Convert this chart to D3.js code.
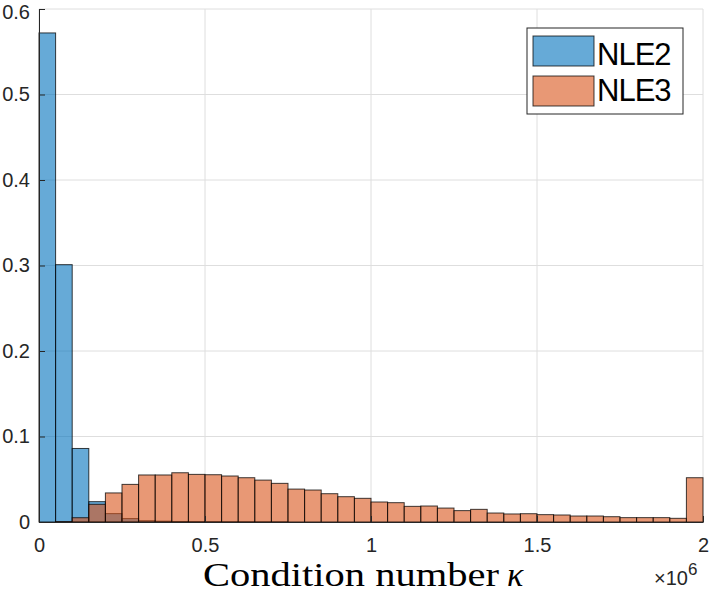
<!DOCTYPE html>
<html>
<head>
<meta charset="utf-8">
<script src="https://cdn.jsdelivr.net/npm/d3@7"></script>
<style>
  body { margin: 0; background: #fff; }
  .tick text { font-family: "Liberation Sans", Arial, sans-serif; font-size: 20px; fill: #262626; }
</style>
</head>
<body>
<div id="chart"></div>
<script>
// histogram bins: 40 bins of width 0.05e6 from 0 to 2e6
var binWidth = 50000;
var nle2 = [0.572, 0.301, 0.086, 0.0238, 0.0098, 0.004, 0.0015, 0.001, 0.0006, 0.0004,
            0.0003, 0.0002, 0.0002, 0.0001, 0.0001, 0, 0, 0, 0, 0,
            0, 0, 0, 0, 0, 0, 0, 0, 0, 0,
            0, 0, 0, 0, 0, 0, 0, 0, 0, 0];
var nle3 = [0, 0.0005, 0.005, 0.0207, 0.034, 0.044, 0.055, 0.055, 0.0576, 0.0557,
            0.0553, 0.0538, 0.0518, 0.049, 0.0452, 0.0385, 0.0374, 0.0331, 0.0296, 0.0277,
            0.0234, 0.0226, 0.0183, 0.0187, 0.0163, 0.0133, 0.0148, 0.0105, 0.0094, 0.0097,
            0.0086, 0.0082, 0.007, 0.007, 0.0062, 0.0051, 0.0051, 0.0051, 0.0043, 0.0518];
var xTicks = [0, 0.5e6, 1e6, 1.5e6, 2e6];
var xTickLabels = ["0", "0.5", "1", "1.5", "2"];
var yTicks = [0, 0.1, 0.2, 0.3, 0.4, 0.5, 0.6];
var seriesNames = ["NLE2", "NLE3"];
var colors = ["#0072BD", "#D95319"];

var W = 709, H = 592;
var margin = { top: 9, right: 6, bottom: 70, left: 39 },
    width = W - margin.left - margin.right,
    height = H - margin.top - margin.bottom;

var svg = d3.select("#chart")
    .append("svg")
    .attr("width", W)
    .attr("height", H)
    .append("g")
    .attr("transform", "translate(" + margin.left + "," + margin.top + ")");

var x = d3.scaleLinear().domain([0, 2e6]).range([0, width]);
var y = d3.scaleLinear().domain([0, 0.6]).range([height, 0]);

// grid
svg.append("g")
    .selectAll("line")
    .data(xTicks)
    .enter().append("line")
    .attr("x1", function (d) { return x(d); })
    .attr("x2", function (d) { return x(d); })
    .attr("y1", 0).attr("y2", height)
    .attr("stroke", "#dedede").attr("stroke-width", 1);
svg.append("g")
    .selectAll("line")
    .data(yTicks)
    .enter().append("line")
    .attr("y1", function (d) { return y(d); })
    .attr("y2", function (d) { return y(d); })
    .attr("x1", 0).attr("x2", width)
    .attr("stroke", "#dedede").attr("stroke-width", 1);

// bars (NLE3 drawn over NLE2)
[nle2, nle3].forEach(function (vals, s) {
  var data = vals.map(function (v, i) { return { i: i, v: v }; })
      .filter(function (d) { return d.v > 0; });
  svg.append("g")
      .selectAll("rect")
      .data(data)
      .enter().append("rect")
      .attr("x", function (d) { return x(d.i * binWidth); })
      .attr("width", function (d) { return x((d.i + 1) * binWidth) - x(d.i * binWidth); })
      .attr("y", function (d) { return y(d.v); })
      .attr("height", function (d) { return y(0) - y(d.v); })
      .attr("fill", colors[s])
      .attr("fill-opacity", 0.6)
      .attr("stroke", "#000")
      .attr("stroke-opacity", 0.75)
      .attr("stroke-width", 1);
});

// axes
var xAxis = svg.append("g")
    .attr("transform", "translate(0," + height + ")")
    .call(d3.axisBottom(x).tickValues(xTicks)
        .tickFormat(function (d, i) { return xTickLabels[i]; })
        .tickSizeInner(-6).tickSizeOuter(0).tickPadding(16));
var yAxis = svg.append("g")
    .call(d3.axisLeft(y).tickValues(yTicks)
        .tickFormat(function (d) { return d === 0 ? "0" : d3.format(".1f")(d); })
        .tickSizeInner(-6).tickSizeOuter(0).tickPadding(9));
[xAxis, yAxis].forEach(function (a) {
  a.select(".domain").attr("stroke", "#262626");
  a.selectAll(".tick line").attr("stroke", "#262626");
});
// keep the top label inside the window
yAxis.selectAll(".tick text").filter(function (d) { return d === 0.6; }).attr("dy", "0.48em");

// x label
svg.append("text")
    .attr("x", 164)
    .attr("y", 577)
    .style("font-family", "'Liberation Serif', 'Times New Roman', serif")
    .style("font-size", "34px")
    .style("fill", "#000")
    .attr("textLength", 296)
    .attr("lengthAdjust", "spacingAndGlyphs")
    .text("Condition number");
svg.append("text")
    .attr("x", 468)
    .attr("y", 577)
    .style("font-family", "'Liberation Serif', 'Times New Roman', serif")
    .style("font-size", "34px")
    .style("font-style", "italic")
    .style("fill", "#000")
    .text("\u03BA");

// exponent
var ex = svg.append("text")
    .attr("x", 615)
    .attr("y", 576)
    .style("font-family", "'Liberation Sans', Arial, sans-serif")
    .style("font-size", "20px")
    .style("fill", "#262626");
ex.append("tspan").text("\u00D710");
ex.append("tspan").attr("dy", -10).style("font-size", "17px").text("6");

// legend
var leg = svg.append("g").attr("transform", "translate(" + (527 - margin.left) + "," + (28 - margin.top) + ")");
leg.append("rect")
    .attr("width", 156).attr("height", 86)
    .attr("fill", "#fff").attr("stroke", "#262626").attr("stroke-width", 1);
seriesNames.forEach(function (name, i) {
  leg.append("rect")
      .attr("x", 6).attr("y", 8 + i * 40)
      .attr("width", 61).attr("height", 30)
      .attr("fill", colors[i]).attr("fill-opacity", 0.6)
      .attr("stroke", "#000").attr("stroke-opacity", 0.75);
  leg.append("text")
      .attr("x", 70).attr("y", 37 + i * 36)
      .style("font-family", "'Liberation Sans', Arial, sans-serif")
      .style("font-size", "31px")
      .style("letter-spacing", "-1px")
      .style("fill", "#000")
      .text(name);
});
</script>
</body>
</html>
